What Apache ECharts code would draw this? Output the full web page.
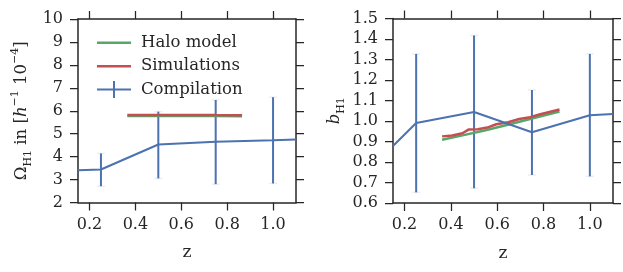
<!DOCTYPE html>
<html>
<head>
<meta charset="utf-8">
<script src="https://cdn.jsdelivr.net/npm/echarts@6/dist/echarts.min.js"></script>
<style>
html,body{margin:0;padding:0;background:#fff;}
#c{width:623px;height:272px;}
</style>
</head>
<body>
<div id="c"></div>
<script>
// ---- data ----
const xTicks = [0.2, 0.4, 0.6, 0.8, 1.0];
const omegaTicks = [2, 3, 4, 5, 6, 7, 8, 9, 10];
const biasTicks = [0.6, 0.7, 0.8, 0.9, 1.0, 1.1, 1.2, 1.3, 1.4, 1.5];

// Left panel: Omega_HI
const omegaHalo = [[0.365, 5.77], [0.45, 5.77], [0.55, 5.77], [0.65, 5.77], [0.75, 5.77], [0.865, 5.76]];
const omegaSim = [[0.365, 5.81], [0.45, 5.81], [0.55, 5.82], [0.65, 5.82], [0.75, 5.81], [0.865, 5.80]];
const omegaComp = [[0.15, 3.41], [0.25, 3.44], [0.5, 4.53], [0.75, 4.65], [1.0, 4.71], [1.1, 4.75]];
const omegaErr = [[0.25, 2.71, 4.14], [0.5, 3.05, 5.96], [0.75, 2.80, 6.47], [1.0, 2.83, 6.59]];

// Right panel: b_HI
const biasHalo = [[0.362, 0.909], [0.45, 0.930], [0.55, 0.955], [0.65, 0.983], [0.75, 1.012], [0.869, 1.046]];
const biasSim = [[0.362, 0.925], [0.406, 0.929], [0.450, 0.940], [0.476, 0.958], [0.516, 0.960], [0.557, 0.968],
                 [0.596, 0.984], [0.647, 0.994], [0.695, 1.010], [0.742, 1.018], [0.786, 1.033], [0.869, 1.056]];
const biasComp = [[0.15, 0.878], [0.25, 0.990], [0.5, 1.044], [0.75, 0.945], [1.0, 1.028], [1.1, 1.034]];
const biasErr = [[0.25, 0.652, 1.327], [0.5, 0.672, 1.417], [0.75, 0.737, 1.151], [1.0, 0.730, 1.327]];

// ---- style ----
const FONT = 'DejaVu Serif';
const INK = '#262626';
const BLUE = '#4C72B0', GREEN = '#55A868', RED = '#C44E52';
const FS = 16;

function xAxisPair(gridIndex) {
  return [
    {
      type: 'value', gridIndex, position: 'bottom', min: 0.15, max: 1.1,
      name: 'z', nameLocation: 'middle', nameGap: 42,
      nameTextStyle: { fontFamily: FONT, fontSize: 17, color: INK },
      axisLine: { show: true, onZero: false, lineStyle: { color: INK, width: 1.5 } },
      axisTick: { show: true, inside: false, length: 8, customValues: xTicks, lineStyle: { color: INK, width: 1.25 } },
      axisLabel: { show: true, margin: 14, customValues: xTicks, fontFamily: FONT, fontSize: FS, color: INK,
                   formatter: v => Number(v).toFixed(1) },
      splitLine: { show: false }
    },
    {
      type: 'value', gridIndex, position: 'top', min: 0.15, max: 1.1,
      axisLine: { show: true, onZero: false, lineStyle: { color: INK, width: 1.5 } },
      axisTick: { show: true, inside: false, length: 8, customValues: xTicks, lineStyle: { color: INK, width: 1.25 } },
      axisLabel: { show: false },
      splitLine: { show: false }
    }
  ];
}

function yAxisPair(gridIndex, min, max, interval, ticks, decimals, name, rich, nameGap) {
  return [
    {
      type: 'value', gridIndex, position: 'left', min, max, interval,
      name, nameLocation: 'middle', nameGap, nameRotate: 90,
      nameTextStyle: { fontFamily: FONT, fontSize: FS, color: INK, rich },
      axisLine: { show: true, onZero: false, lineStyle: { color: INK, width: 1.5 } },
      axisTick: { show: true, inside: false, length: 8, lineStyle: { color: INK, width: 1.25 } },
      axisLabel: { show: true, margin: 15, fontFamily: FONT, fontSize: FS, color: INK,
                   formatter: v => Number(v).toFixed(decimals) },
      splitLine: { show: false }
    },
    {
      type: 'value', gridIndex, position: 'right', min, max, interval,
      axisLine: { show: true, onZero: false, lineStyle: { color: INK, width: 1.5 } },
      axisTick: { show: true, inside: false, length: 8, lineStyle: { color: INK, width: 1.25 } },
      axisLabel: { show: false },
      splitLine: { show: false }
    }
  ];
}

const richBase = {
  t: { fontFamily: FONT, fontSize: 16.5, color: INK, lineHeight: 24 },
  i: { fontFamily: FONT, fontSize: 16.5, fontStyle: 'italic', color: INK, lineHeight: 24 },
  s: { fontFamily: FONT, fontSize: 11, color: INK, lineHeight: 13, verticalAlign: 'bottom' },
  p: { fontFamily: FONT, fontSize: 11, color: INK, lineHeight: 13, verticalAlign: 'top' }
};

function errRender(color) {
  return function (params, api) {
    const x = api.value(0), lo = api.value(1), hi = api.value(2);
    const a = api.coord([x, lo]), b = api.coord([x, hi]);
    return {
      type: 'group',
      children: [
        { type: 'line', shape: { x1: a[0], y1: a[1], x2: b[0], y2: b[1] }, style: { stroke: color, lineWidth: 2 } },
        { type: 'line', shape: { x1: a[0] - 4, y1: a[1], x2: a[0] + 4, y2: a[1] }, style: { stroke: 'rgba(76,114,176,0.12)', lineWidth: 1.5 } },
        { type: 'line', shape: { x1: b[0] - 4, y1: b[1], x2: b[0] + 4, y2: b[1] }, style: { stroke: 'rgba(76,114,176,0.12)', lineWidth: 1.5 } }
      ]
    };
  };
}

function lineSeries(name, data, color, xi, yi, width) {
  return {
    type: 'line', name, data, xAxisIndex: xi, yAxisIndex: yi,
    showSymbol: false, symbol: 'none', smooth: false, animation: false,
    color, itemStyle: { color }, lineStyle: { color, width }
  };
}

const chart = echarts.init(document.getElementById('c'), null, { renderer: 'canvas' });
chart.setOption({
  backgroundColor: '#fff',
  animation: false,
  grid: [
    { left: 78, top: 19, width: 218, height: 183.5 },
    { left: 393, top: 18.5, width: 220, height: 184.5 }
  ],
  xAxis: [...xAxisPair(0), ...xAxisPair(1)],
  yAxis: [
    ...yAxisPair(0, 2, 10, 1, omegaTicks, 0,
      '{t|Ω}{s|H1}{t| in [}{i|h}{p|−1}{t| 10}{p|−4}{t|]}', richBase, 44),
    ...yAxisPair(1, 0.6, 1.5, 0.1, biasTicks, 1,
      '{i|b}{s|H1}', richBase, 46)
  ],
  legend: {
    show: true, orient: 'vertical', left: 92, top: 29,
    itemWidth: 34, itemHeight: 17, itemGap: 6.5,
    textStyle: { fontFamily: FONT, fontSize: 16.5, color: INK, padding: [0, 0, 0, 5] },
    data: [
      { name: 'Halo model', icon: 'path://M0,0 M34,17 M0,7.5h34v2.5H0z' },
      { name: 'Simulations', icon: 'path://M0,0 M34,17 M0,7.5h34v2.5H0z' },
      { name: 'Compilation', icon: 'path://M0,0 M34,17 M0,7.5h34v2H0z M16,0h2v17h-2z' }
    ]
  },
  series: [
    lineSeries('Halo model', omegaHalo, GREEN, 0, 0, 2.5),
    lineSeries('Simulations', omegaSim, RED, 0, 0, 2.5),
    lineSeries('Compilation', omegaComp, BLUE, 0, 0, 2),
    { type: 'custom', name: 'Compilation err', xAxisIndex: 0, yAxisIndex: 0, data: omegaErr,
      encode: { x: 0, y: [1, 2] }, renderItem: errRender(BLUE), animation: false },
    lineSeries('Halo model', biasHalo, GREEN, 2, 2, 2.5),
    lineSeries('Simulations', biasSim, RED, 2, 2, 2.5),
    lineSeries('Compilation', biasComp, BLUE, 2, 2, 2),
    { type: 'custom', name: 'Compilation err', xAxisIndex: 2, yAxisIndex: 2, data: biasErr,
      encode: { x: 0, y: [1, 2] }, renderItem: errRender(BLUE), animation: false }
  ]
});
</script>
</body>
</html>
